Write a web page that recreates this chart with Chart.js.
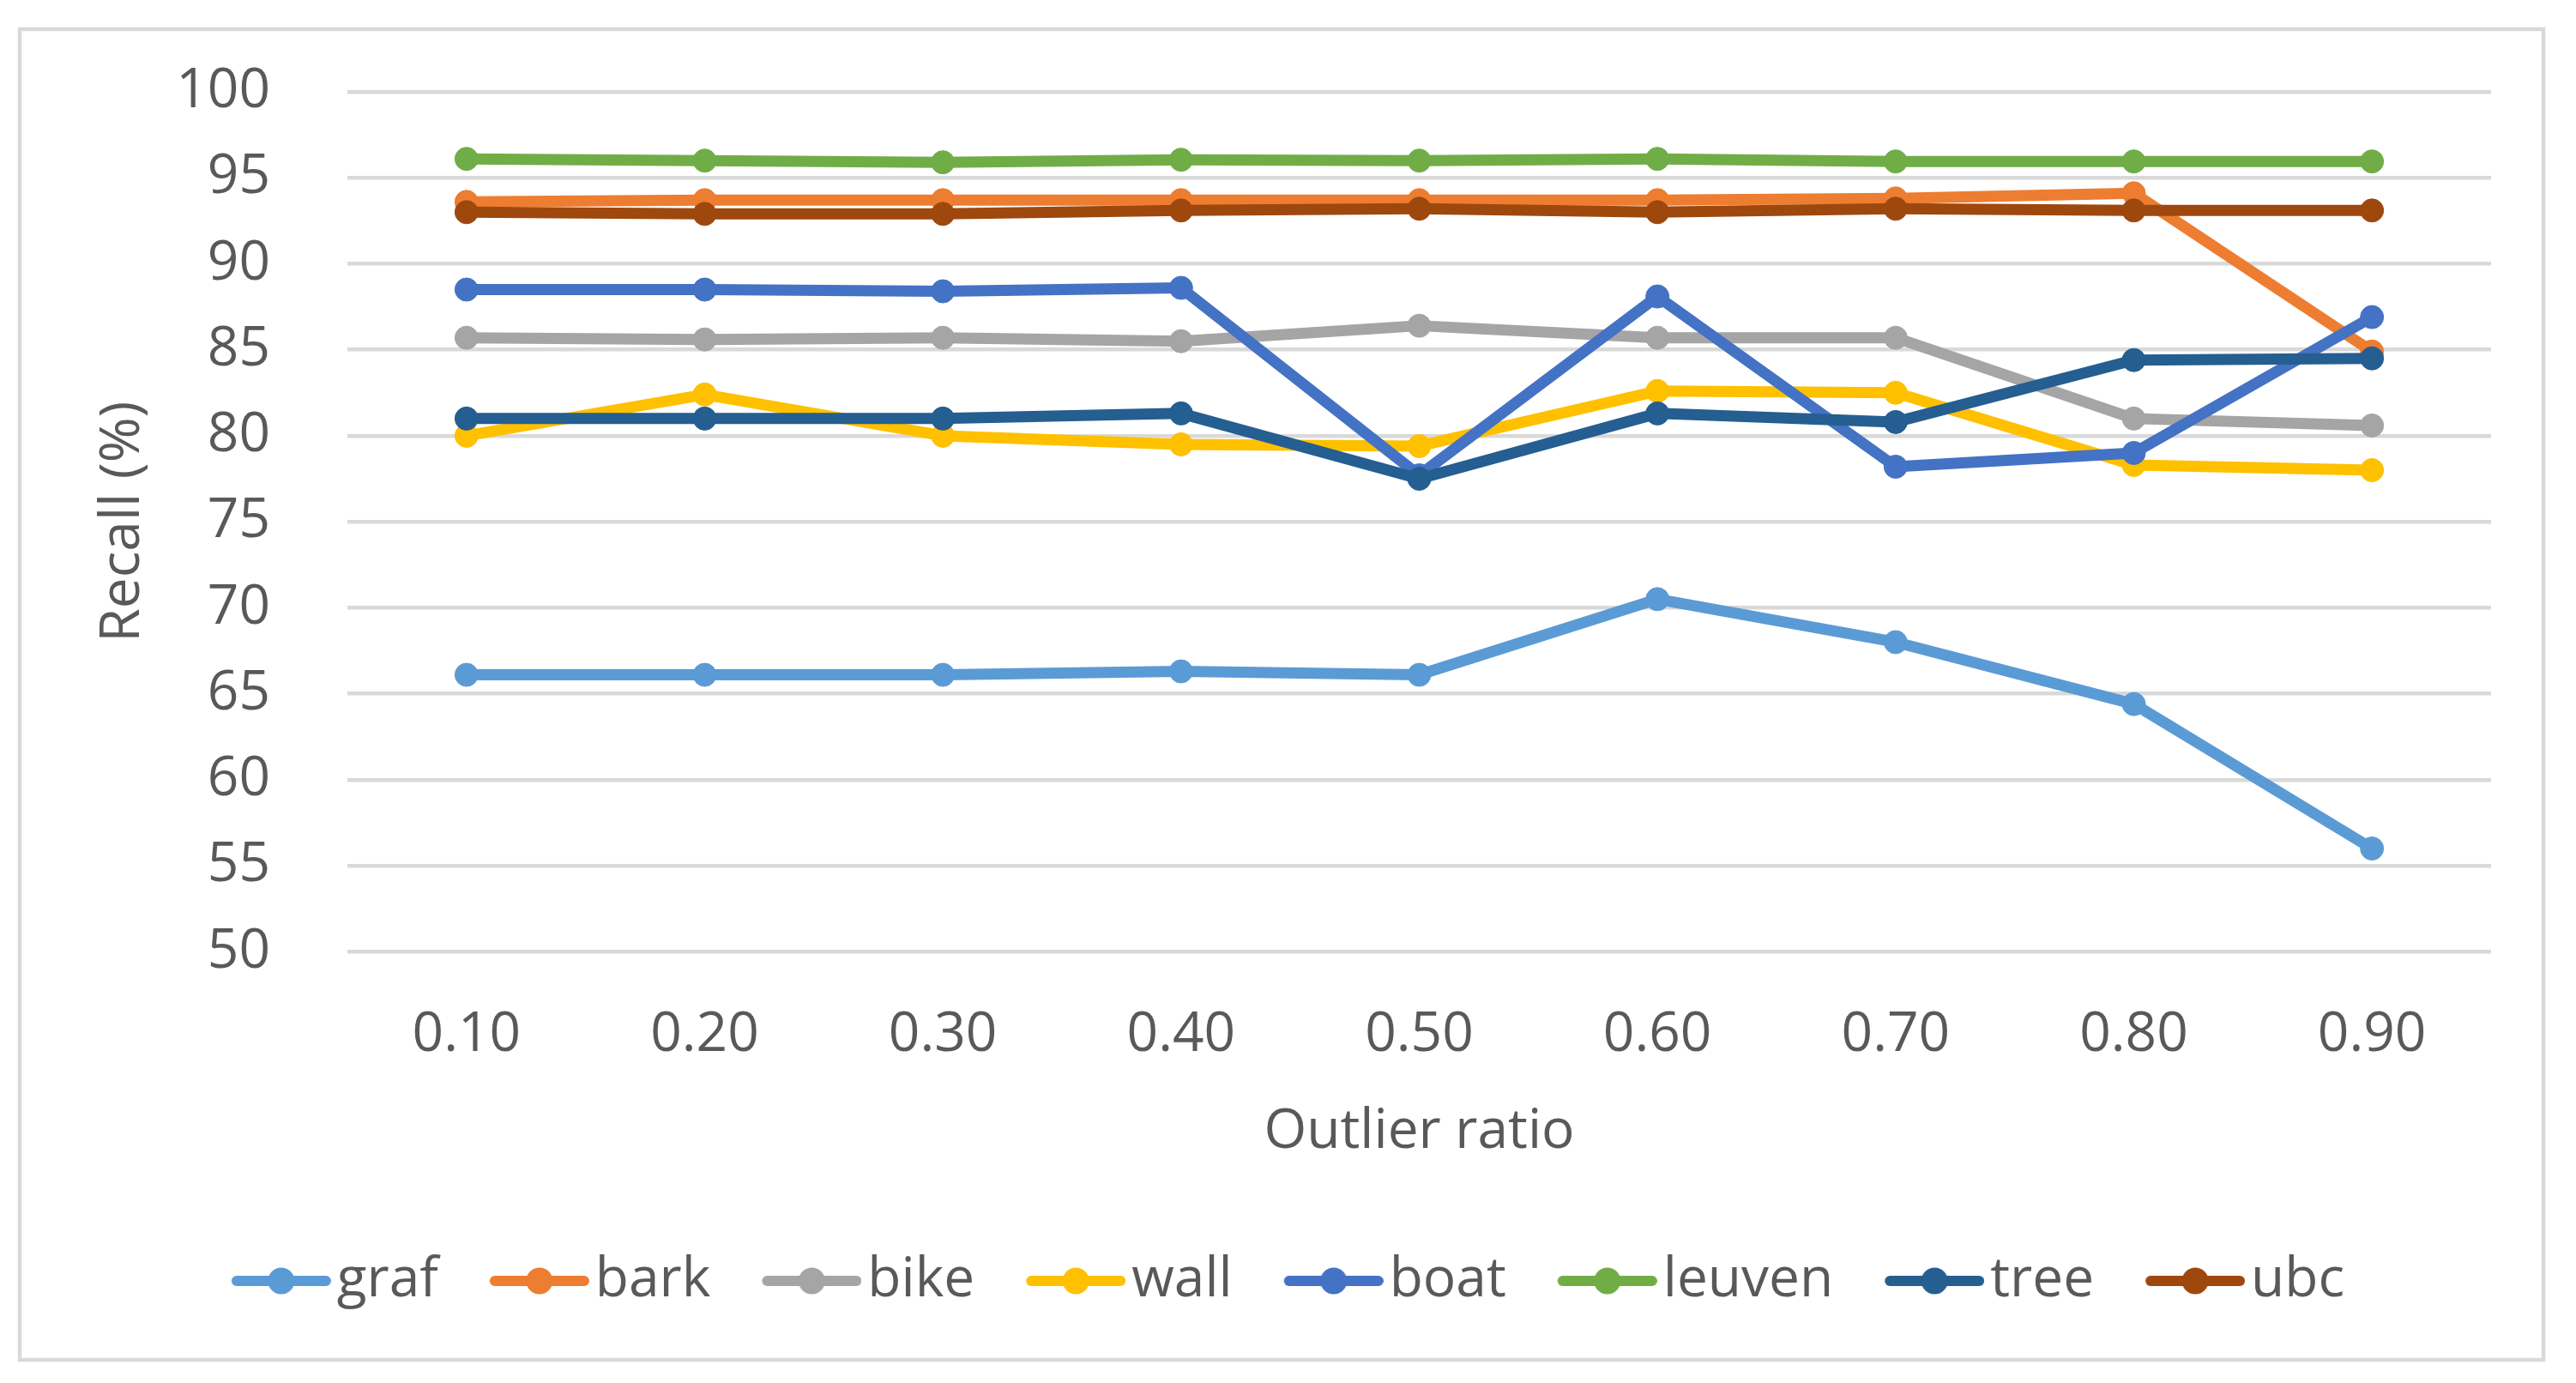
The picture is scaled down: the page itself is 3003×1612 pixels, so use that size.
<!DOCTYPE html>
<html>
<head>
<meta charset="utf-8">
<script src="https://cdn.jsdelivr.net/npm/chart.js@4/dist/chart.umd.min.js"></script>
<style>
  html, body { margin: 0; padding: 0; background: #ffffff; }
  #wrap { width: 3003px; height: 1612px; position: relative; }
  canvas { display: block; }
</style>
</head>
<body>
<div id="wrap"><canvas id="c" width="3003" height="1612"></canvas></div>
<script>
// ---- data ----
const categories = ["0.10", "0.20", "0.30", "0.40", "0.50", "0.60", "0.70", "0.80", "0.90"];
const seriesNames = ["graf", "bark", "bike", "wall", "boat", "leuven", "tree", "ubc"];
const graf   = [66.1, 66.1, 66.1, 66.3, 66.1, 70.5, 68.0, 64.4, 56.0];
const bark   = [93.6, 93.7, 93.7, 93.7, 93.7, 93.7, 93.8, 94.1, 84.9];
const bike   = [85.7, 85.6, 85.7, 85.5, 86.4, 85.7, 85.7, 81.0, 80.6];
const wall   = [80.0, 82.4, 80.0, 79.5, 79.4, 82.6, 82.5, 78.3, 78.0];
const boat   = [88.5, 88.5, 88.4, 88.6, 77.7, 88.1, 78.2, 79.0, 86.9];
const leuven = [96.1, 96.0, 95.9, 96.05, 96.0, 96.1, 95.95, 95.95, 95.95];
const tree   = [81.0, 81.0, 81.0, 81.3, 77.5, 81.3, 80.8, 84.4, 84.5];
const ubc    = [93.0, 92.9, 92.9, 93.1, 93.2, 93.0, 93.2, 93.1, 93.1];
const yTicks = [50, 55, 60, 65, 70, 75, 80, 85, 90, 95, 100];
const xTitle = "Outlier ratio";
const yTitle = "Recall (%)";

// ---- styles ----
const seriesValues = [graf, bark, bike, wall, boat, leuven, tree, ubc];
const colors = ["#5B9BD5", "#ED7D31", "#A5A5A5", "#FFC000", "#4472C4", "#70AD47", "#255E91", "#9E480E"];
const textColor = "#595959";
const gridColor = "#D9D9D9";
const FONT = "'Open Sans', 'Noto Sans', sans-serif";

function legendSymbol(color) {
  const c = document.createElement('canvas');
  c.width = 141; c.height = 40;
  const g = c.getContext('2d');
  g.strokeStyle = color;
  g.lineWidth = 12;
  g.lineCap = 'round';
  g.beginPath();
  g.moveTo(31, 20);
  g.lineTo(135, 20);
  g.stroke();
  g.fillStyle = color;
  g.beginPath();
  g.arc(83, 20, 15.5, 0, Math.PI * 2);
  g.fill();
  return c;
}

const framePlugin = {
  id: 'frame',
  beforeDraw(chart) {
    const ctx = chart.ctx;
    ctx.save();
    ctx.fillStyle = '#ffffff';
    ctx.fillRect(0, 0, chart.width, chart.height);
    ctx.strokeStyle = gridColor;
    ctx.lineWidth = 4.5;
    ctx.strokeRect(23, 34, 2942, 1551);
    ctx.restore();
  }
};

function draw() {
  const n = seriesNames.length;
  const datasets = seriesNames.map((name, i) => ({
    label: name,
    data: seriesValues[i],
    borderColor: colors[i],
    backgroundColor: colors[i],
    pointBackgroundColor: colors[i],
    pointBorderColor: colors[i],
    pointBorderWidth: 1,
    pointRadius: 13.5,
    pointHoverRadius: 13.5,
    borderWidth: 13,
    borderJoinStyle: 'round',
    borderCapStyle: 'round',
    tension: 0,
    fill: false,
    order: n - i
  }));
  const symbols = colors.map(legendSymbol);

  new Chart(document.getElementById('c'), {
    type: 'line',
    data: { labels: categories, datasets },
    plugins: [framePlugin],
    options: {
      responsive: false,
      devicePixelRatio: 1,
      animation: false,
      layout: { padding: { left: 99, right: 99, top: 107, bottom: 77 } },
      plugins: {
        tooltip: { enabled: false },
        title: { display: false },
        legend: {
          display: true,
          position: 'bottom',
          align: 'center',
          labels: {
            usePointStyle: true,
            pointStyleWidth: 91,
            boxHeight: 64,
            padding: 60,
            color: textColor,
            font: { family: FONT, size: 64, lineHeight: 1 },
            generateLabels(chart) {
              return chart.data.datasets.map((ds, i) => ({
                text: ds.label,
                fillStyle: colors[i],
                strokeStyle: colors[i],
                fontColor: textColor,
                lineWidth: 0,
                pointStyle: symbols[i],
                hidden: false,
                datasetIndex: i
              }));
            }
          }
        }
      },
      scales: {
        x: {
          type: 'category',
          offset: true,
          grid: { display: false, drawTicks: false },
          border: { display: false },
          ticks: {
            color: textColor,
            padding: 59,
            maxRotation: 0,
            font: { family: FONT, size: 64, lineHeight: 1.2 }
          },
          title: {
            display: true,
            text: xTitle,
            color: textColor,
            padding: { top: 0, bottom: 43 },
            font: { family: FONT, size: 64, lineHeight: 1.2 }
          },
          afterFit(scale) { scale.height = 291.7; }
        },
        y: {
          min: yTicks[0],
          max: yTicks[yTicks.length - 1],
          afterBuildTicks(scale) { scale.ticks = yTicks.map(v => ({ value: v })); },
          grid: { color: gridColor, lineWidth: 4.5, drawTicks: true, tickLength: 40, tickColor: 'rgba(0,0,0,0)' },
          border: { display: false },
          ticks: {
            color: textColor,
            padding: 50,
            font: { family: FONT, size: 64, lineHeight: 1.2 }
          },
          title: {
            display: true,
            text: yTitle,
            color: textColor,
            padding: { top: 6, bottom: 0 },
            font: { family: FONT, size: 64, lineHeight: 1.2 }
          },
          afterFit(scale) { scale.width = 306; }
        }
      }
    }
  });
}

if (document.fonts && document.fonts.load) {
  document.fonts.load("64px 'Open Sans'").then(draw, draw);
} else {
  draw();
}
</script>
</body>
</html>
